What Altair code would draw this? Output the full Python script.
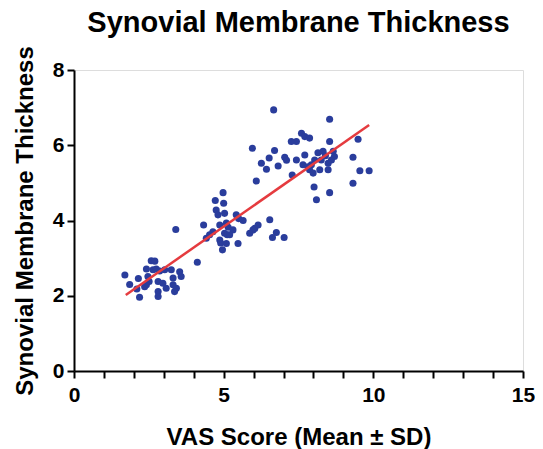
import altair as alt
import pandas as pd

# VAS score (x) and synovial membrane thickness (y)
vas = [
    1.70, 1.86, 2.15, 2.19, 2.36, 2.42, 2.47, 2.51, 2.42, 2.58, 2.70, 2.64, 2.75, 2.86, 3.03,
    2.81, 2.81, 2.81, 2.97, 3.08, 3.25, 3.31, 3.31, 3.42, 3.53, 3.58, 3.36, 4.12, 3.40, 2.10,
    4.98, 4.72, 5.00, 4.75, 4.81, 5.03, 5.42, 5.50, 5.65, 4.33, 4.87, 5.09, 5.15, 5.31, 4.64,
    4.53, 4.42, 5.03, 5.12, 5.20, 4.87, 4.90, 5.09, 5.48, 4.96, 5.87, 5.98, 6.04, 6.15, 6.54,
    6.76, 6.63, 7.02,
    6.67, 7.60, 7.71, 7.43, 7.26, 7.87, 5.96, 6.70, 6.52, 6.26, 6.43, 6.09, 6.82, 7.04, 7.10,
    7.43, 7.71, 7.65, 7.82, 7.29, 8.54, 8.54, 9.49, 9.32, 9.55, 9.86, 9.32, 8.54, 8.02, 8.10,
    8.15, 8.32, 8.40, 8.66, 8.70, 8.60, 8.49, 8.26, 8.04, 7.93, 7.87, 8.21, 8.49, 7.99,
]
thickness = [
    2.55, 2.30, 2.46, 1.96, 2.24, 2.71, 2.51, 2.38, 2.29, 2.93, 2.92, 2.69, 2.71, 2.66, 2.69,
    2.38, 2.11, 1.98, 2.33, 2.20, 2.69, 2.47, 2.29, 2.20, 2.64, 2.51, 2.11, 2.89, 3.76, 2.18,
    4.74, 4.53, 4.46, 4.28, 4.15, 4.19, 4.15, 4.05, 4.00, 3.88, 3.88, 3.93, 3.82, 3.75, 3.70,
    3.62, 3.53, 3.66, 3.62, 3.62, 3.48, 3.40, 3.39, 3.39, 3.22, 3.66, 3.75, 3.79, 3.88, 4.02,
    3.68, 3.55, 3.55,
    6.94, 6.32, 6.23, 6.10, 6.10, 6.19, 5.92, 5.86, 5.66, 5.52, 5.36, 5.05, 5.45, 5.68, 5.60,
    5.61, 5.74, 5.48, 5.43, 5.21, 6.69, 6.10, 6.16, 5.68, 5.32, 5.32, 4.99, 4.74, 4.89, 4.55,
    5.80, 5.84, 5.72, 5.84, 5.70, 5.61, 5.52, 5.61, 5.61, 5.48, 5.35, 5.35, 5.35, 5.26,
]

# fitted line end points
fit_x = [1.73, 9.86]
fit_y = [2.02, 6.54]

x_ticks = list(range(0, 16))
y_ticks = [0, 2, 4, 6, 8]

pts = pd.DataFrame({"x": vas, "y": thickness})
fit = pd.DataFrame({"x": fit_x, "y": fit_y})

FONT = "Liberation Sans"
W, H = 449, 301

xscale = alt.Scale(domain=[0, 15], nice=False, zero=False)
yscale = alt.Scale(domain=[0, 8], nice=False, zero=False)

xaxis = alt.Axis(
    title="VAS Score (Mean ± SD)",
    values=x_ticks,
    labelExpr="datum.value % 5 === 0 ? datum.label : ''",
    grid=False,
    domainColor="black", domainWidth=2,
    tickColor="black", tickWidth=2, tickSize=7,
    labelFont=FONT, labelFontSize=21, labelFontWeight="bold", labelColor="black",
    labelPadding=6, labelFlush=False, labelOverlap=False, labelBound=False,
    titleFont=FONT, titleFontSize=24, titleFontWeight="bold", titleColor="black",
    titleX=W / 2, titleY=73, titleBaseline="alphabetic", titleAnchor="middle", titleAlign="center",
)
yaxis = alt.Axis(
    title="Synovial Membrane Thickness",
    values=y_ticks,
    grid=False,
    domainColor="black", domainWidth=2,
    tickColor="black", tickWidth=2, tickSize=7,
    labelFont=FONT, labelFontSize=21, labelFontWeight="bold", labelColor="black",
    labelPadding=3, labelFlush=False, labelOverlap=False,
    titleFont=FONT, titleFontSize=24, titleFontWeight="bold", titleColor="black",
    titleX=-42, titleY=H / 2, titleBaseline="alphabetic", titleAngle=-90, titleAlign="center",
)

points = alt.Chart(pts).mark_circle(size=50, color="#2a3d9c", opacity=1).encode(
    x=alt.X("x:Q", scale=xscale, axis=xaxis),
    y=alt.Y("y:Q", scale=yscale, axis=yaxis),
)
line = alt.Chart(fit).mark_line(color="#e53b3f", strokeWidth=2.5).encode(
    x=alt.X("x:Q", scale=xscale, axis=xaxis),
    y=alt.Y("y:Q", scale=yscale, axis=yaxis),
)

chart = (
    alt.layer(points, line)
    .properties(
        width=W,
        height=H,
        autosize=alt.AutoSizeParams(type="none"),
        padding={"left": 66, "top": 62, "right": 12, "bottom": 78},
        title=alt.TitleParams(
            "Synovial Membrane Thickness",
            font=FONT, fontSize=29, fontWeight="bold", color="black",
            anchor="middle", frame="group", baseline="alphabetic", offset=-15,
        ),
    )
    .configure_view(strokeWidth=0, stroke="transparent")
    .configure(background="white")
)

chart.save("out.html", embed_options={"renderer": "svg", "actions": False})
